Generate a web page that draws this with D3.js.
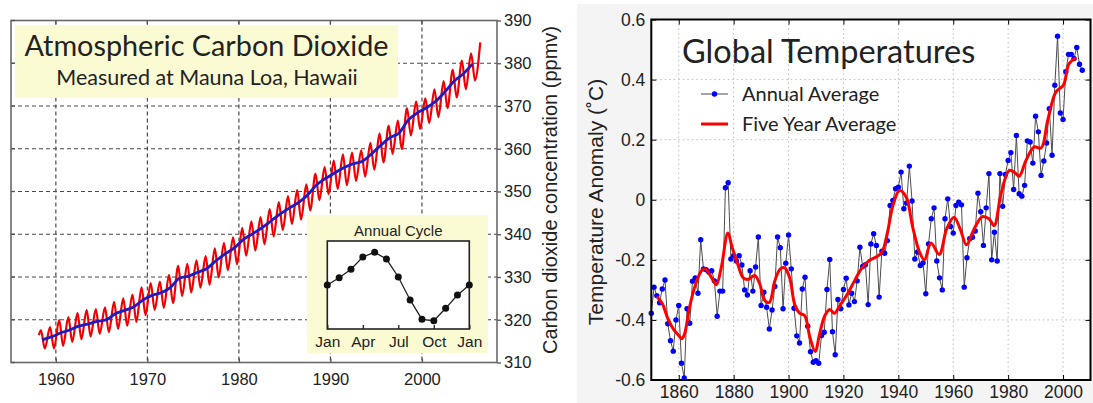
<!DOCTYPE html>
<html lang="en">
<head>
<meta charset="UTF-8">
<title>Atmospheric CO2 and Global Temperatures</title>
<style>
  body { margin: 0; background: #fff; }
  svg { display: block; }
  text { font-family: "Liberation Sans", Arial, sans-serif; fill: #222; }
  .myriad { font-family: Lato, "Open Sans", sans-serif; }
</style>
</head>
<body>
<svg id="chart" width="1093" height="403"></svg>
<script src="https://d3js.org/d3.v7.min.js"></script>
<script>
// ---------- Mauna Loa CO2 (ppmv) ----------
const co2Years = d3.range(1958, 2007);
// seasonal high (around May) for each year 1958-2006
const co2Peak = [
  317.5, 318.3, 320.0, 320.6, 321.6, 322.3, 322.5, 322.9, 324.2, 325.0,
  325.9, 327.6, 328.6, 328.9, 330.5, 332.6, 333.1, 333.9, 334.9, 336.7,
  338.0, 339.3, 341.5, 343.0, 344.0, 345.9, 347.5, 348.9, 350.3, 351.7,
  354.2, 355.7, 357.2, 358.7, 359.1, 359.6, 361.4, 363.6, 365.4, 366.6,
  369.5, 371.1, 371.8, 373.9, 375.8, 378.5, 380.6, 382.3, 384.9
];
// seasonal low (around October) for each year 1958-2005
const co2Trough = [
  313.3, 313.3, 313.9, 314.8, 315.4, 316.1, 316.7, 317.1, 317.9, 318.6,
  319.5, 321.1, 322.3, 322.8, 323.9, 325.6, 326.4, 327.5, 328.2, 329.9,
  331.6, 333.0, 335.0, 336.2, 337.7, 339.5, 341.0, 342.4, 343.4, 345.6,
  348.0, 349.4, 350.6, 351.5, 352.5, 353.5, 355.1, 356.8, 358.8, 359.9,
  363.1, 364.6, 366.0, 367.4, 369.5, 372.0, 373.9, 376.0
];
const co2First = [1958.15, 316.4];
// annual mean (blue), 1958-2005
const co2TrendYears = d3.range(1958, 2006);
const co2Trend = [
  315.3, 316.0, 316.9, 317.6, 318.5, 319.0, 319.6, 320.0, 321.4, 322.2,
  323.0, 324.6, 325.7, 326.3, 327.5, 329.7, 330.2, 331.1, 332.0, 333.8,
  335.4, 336.8, 338.8, 340.1, 341.5, 343.1, 344.7, 346.1, 347.4, 349.2,
  351.6, 353.1, 354.4, 355.6, 356.5, 357.1, 358.8, 360.8, 362.6, 363.7,
  366.7, 368.4, 369.6, 371.1, 373.3, 375.8, 377.5, 379.8
];
const co2XTicks = [1960, 1970, 1980, 1990, 2000];
const co2YTicks = [310, 320, 330, 340, 350, 360, 370, 380, 390];

// annual cycle inset (ppmv relative to annual mean), Jan..Jan
const cycleMonth = d3.range(0, 13);
const cycleValue = [0, 0.66, 1.43, 2.55, 2.97, 2.36, 0.73, -1.36, -3.12, -3.25, -2.12, -0.91, 0];
const cycleTickMonth = [0, 3, 6, 9, 12];
const cycleTickLabel = ["Jan", "Apr", "Jul", "Oct", "Jan"];

// ---------- Global temperature anomaly (deg C) ----------
const tempYears = d3.range(1850, 2008);
const tempAnnual = [
  -0.378, -0.291, -0.319, -0.343, -0.297, -0.267, -0.413, -0.469, -0.504, -0.400,
  -0.352, -0.544, -0.593, -0.363, -0.411, -0.271, -0.260, -0.311, -0.133, -0.230,
  -0.233, -0.241, -0.236, -0.270, -0.388, -0.304, -0.304,  0.040,  0.057, -0.197,
  -0.186, -0.204, -0.186, -0.217, -0.300, -0.317, -0.236, -0.304, -0.224, -0.124,
  -0.352, -0.308, -0.358, -0.430, -0.367, -0.289, -0.124, -0.160, -0.363, -0.211,
  -0.117, -0.230, -0.361, -0.453, -0.477, -0.297, -0.258, -0.421, -0.506, -0.541,
  -0.536, -0.544, -0.452, -0.441, -0.299, -0.199, -0.439, -0.516, -0.332, -0.363,
  -0.299, -0.261, -0.350, -0.311, -0.339, -0.270, -0.158, -0.222, -0.216, -0.349,
  -0.147, -0.113, -0.152, -0.324, -0.171, -0.178, -0.136, -0.019, -0.002,  0.037,
   0.042,  0.092, -0.030, -0.011,  0.112, -0.004, -0.197, -0.174, -0.219, -0.210,
  -0.313, -0.147, -0.063, -0.027, -0.204, -0.260, -0.300, -0.063,  0.003, -0.089,
  -0.111, -0.019, -0.008, -0.017, -0.291, -0.193, -0.130, -0.125, -0.104,  0.022,
  -0.040, -0.152, -0.027,  0.087, -0.200, -0.108, -0.204,  0.087, -0.022,  0.084,
   0.131,  0.157,  0.034,  0.214,  0.020,  0.012,  0.048,  0.196,  0.192,  0.122,
   0.278,  0.226,  0.081,  0.129,  0.189,  0.303,  0.148,  0.381,  0.544,  0.289,
   0.267,  0.426,  0.484,  0.484,  0.470,  0.507,  0.451,  0.431
];
// five year average (red)
const smoothYears = [
  1852, 1854, 1856, 1858, 1860, 1861, 1862, 1864, 1866, 1868, 1869, 1870, 1872,
  1873.7, 1875.5, 1877.9, 1879.5, 1881.5, 1883.5, 1885.3, 1887.7, 1889.5, 1891.3,
  1893, 1895, 1897, 1898.6, 1900.4, 1902.3, 1904.1, 1905.9, 1907.7, 1909.7, 1911.3,
  1913.2, 1915, 1916.7, 1918.5, 1921.5, 1924, 1926.5, 1929, 1932, 1934, 1936, 1938,
  1940.4, 1942.8, 1945.2, 1947.7, 1949.5, 1951.9, 1954.9, 1957.6, 1960.3, 1962.7,
  1964.8, 1967.6, 1970.6, 1973, 1974.9, 1977.4, 1980.4, 1982.5, 1984, 1986.5,
  1989.5, 1992, 1994.4, 1997.4, 2000.1, 2002.2, 2004.8
];
const smoothValues = [
  -0.322, -0.345, -0.395, -0.430, -0.452, -0.463, -0.450, -0.355, -0.285, -0.240, -0.230, -0.232, -0.260,
  -0.283, -0.225, -0.111, -0.160, -0.215, -0.260, -0.265, -0.252, -0.280, -0.335,
  -0.342, -0.270, -0.230, -0.227, -0.260, -0.350, -0.378, -0.386, -0.455, -0.505, -0.447,
  -0.386, -0.365, -0.378, -0.355, -0.313, -0.270, -0.230, -0.205, -0.190, -0.175, -0.110, -0.020,
   0.031,  0.010, -0.090, -0.174, -0.200, -0.144, -0.182, -0.097, -0.058, -0.102,
  -0.150, -0.097, -0.056, -0.063, -0.086,  0.020,  0.098,  0.090,  0.078,  0.131,
   0.176,  0.172,  0.264,  0.359,  0.381,  0.453,  0.473
];
const tempXTicks = [1860, 1880, 1900, 1920, 1940, 1960, 1980, 2000];
const tempYTicks = [-0.6, -0.4, -0.2, 0, 0.2, 0.4, 0.6];

const svg = d3.select("#chart");

// =============== left panel: CO2 ===============
const cx = d3.scaleLinear().domain([1955.1, 2008.2]).range([11, 497]);
const cy = d3.scaleLinear().domain([310, 390]).range([362.5, 20.5]);
const left = svg.append("g");

// dashed grid
left.append("g").selectAll("line").data(co2XTicks).join("line")
  .attr("x1", d => cx(d)).attr("x2", d => cx(d))
  .attr("y1", cy(390)).attr("y2", cy(310));
left.append("g").selectAll("line").data(co2YTicks.slice(1, -1)).join("line")
  .attr("x1", cx.range()[0]).attr("x2", cx.range()[1])
  .attr("y1", d => cy(d)).attr("y2", d => cy(d));
left.selectAll("g line")
  .attr("stroke", "#4a4a4a").attr("stroke-width", 1.2).attr("stroke-dasharray", "4,3");

// monthly (red) built from the seasonal highs and lows
const redPts = [co2First];
co2Years.forEach((yr, i) => {
  redPts.push([yr + 0.37, co2Peak[i]]);
  if (i < co2Trough.length) redPts.push([yr + 0.79, co2Trough[i]]);
});
const co2Line = d3.line().x(d => cx(d[0])).y(d => cy(d[1])).curve(d3.curveMonotoneX);
left.append("path").datum(redPts)
  .attr("d", co2Line).attr("fill", "none")
  .attr("stroke", "#f00000").attr("stroke-width", 2.2);
left.append("path").datum(co2TrendYears.map((yr, i) => [yr + 0.5, co2Trend[i]]))
  .attr("d", co2Line).attr("fill", "none")
  .attr("stroke", "#1c1cc4").attr("stroke-width", 2.8);

// title box
left.append("rect").attr("x", 15).attr("y", 25).attr("width", 383).attr("height", 73)
  .attr("fill", "#fbfbd3");
left.append("text").attr("class", "myriad").attr("x", 206.5).attr("y", 56)
  .attr("text-anchor", "middle").attr("font-size", 28.8).text("Atmospheric Carbon Dioxide");
left.append("text").attr("class", "myriad").attr("x", 207).attr("y", 85)
  .attr("text-anchor", "middle").attr("font-size", 21.5).text("Measured at Mauna Loa, Hawaii");

// inset: annual cycle
const ix = d3.scaleLinear().domain([0, 12]).range([327.3, 469.3]);
const iy = d3.scaleLinear().domain([-4, 4]).range([329, 241]);
left.append("rect").attr("x", 307).attr("y", 215).attr("width", 181).attr("height", 138)
  .attr("fill", "#fbfbd3");
left.append("rect").attr("x", ix(0)).attr("y", iy(4))
  .attr("width", ix(12) - ix(0)).attr("height", iy(-4) - iy(4))
  .attr("fill", "#fff").attr("stroke", "#222").attr("stroke-width", 1.6);
left.append("text").attr("x", ix(6)).attr("y", 236).attr("text-anchor", "middle")
  .attr("font-size", 15).text("Annual Cycle");
left.append("g").attr("transform", `translate(0,${iy(-4)})`)
  .call(d3.axisBottom(ix).tickValues(cycleTickMonth).tickSize(-4).tickPadding(7)
    .tickFormat((d, i) => cycleTickLabel[i]))
  .call(g => g.select(".domain").remove())
  .call(g => g.selectAll("line").attr("stroke", "#222").attr("stroke-width", 1.3))
  .call(g => g.selectAll("text").attr("font-size", 15.5).attr("fill", "#222")
    .attr("font-family", "Liberation Sans, Arial, sans-serif"));
const cycleLine = d3.line().x((d, i) => ix(cycleMonth[i])).y(d => iy(d));
left.append("path").datum(cycleValue).attr("d", cycleLine)
  .attr("fill", "none").attr("stroke", "#222").attr("stroke-width", 1.3);
left.append("g").selectAll("circle").data(cycleValue).join("circle")
  .attr("cx", (d, i) => ix(cycleMonth[i])).attr("cy", d => iy(d)).attr("r", 3.5)
  .attr("fill", "#111");

// frame and ticks
left.append("rect").attr("x", cx.range()[0]).attr("y", cy(390))
  .attr("width", cx.range()[1] - cx.range()[0]).attr("height", cy(310) - cy(390))
  .attr("fill", "none").attr("stroke", "#6a6a6a").attr("stroke-width", 1.6);
left.append("g").selectAll("line").data(co2XTicks).join("line")
  .attr("x1", d => cx(d)).attr("x2", d => cx(d))
  .attr("y1", cy(390)).attr("y2", cy(390) + 4)
  .attr("stroke", "#555").attr("stroke-width", 1.3);
left.append("g").selectAll("line").data(co2YTicks).join("line")
  .attr("x1", cx.range()[0]).attr("x2", cx.range()[0] + 4)
  .attr("y1", d => cy(d)).attr("y2", d => cy(d))
  .attr("stroke", "#555").attr("stroke-width", 1.3);

left.append("g").attr("transform", `translate(${cx.range()[1]},0)`)
  .call(d3.axisRight(cy).tickValues(co2YTicks).tickSize(4).tickPadding(3))
  .call(g => g.select(".domain").remove())
  .call(g => g.selectAll("line").attr("stroke", "#555").attr("stroke-width", 1.3))
  .call(g => g.selectAll("text").attr("font-size", 16.5).attr("fill", "#222")
    .attr("font-family", "Liberation Sans, Arial, sans-serif"));
left.append("g").attr("transform", `translate(0,${cy(310)})`)
  .call(d3.axisBottom(cx).tickValues(co2XTicks).tickSize(-4).tickPadding(11).tickFormat(d3.format("d")))
  .call(g => g.select(".domain").remove())
  .call(g => g.selectAll("line").attr("stroke", "#555").attr("stroke-width", 1.3))
  .call(g => g.selectAll("text").attr("font-size", 16.5).attr("fill", "#222")
    .attr("font-family", "Liberation Sans, Arial, sans-serif"));
left.append("text").attr("transform", "translate(550,190) rotate(-90)")
  .attr("text-anchor", "middle").attr("dy", "0.35em").attr("font-size", 20)
  .text("Carbon dioxide concentration (ppmv)");

// =============== right panel: temperatures ===============
const tx = d3.scaleLinear().domain([1850, 2010]).range([651.3, 1090.5]);
const ty = d3.scaleLinear().domain([-0.6, 0.6]).range([380, 19.5]);
const right = svg.append("g");

right.append("rect").attr("x", 577).attr("y", 4).attr("width", 516).attr("height", 399)
  .attr("fill", "#f4f4f4");
right.append("rect").attr("x", tx.range()[0]).attr("y", ty(0.6))
  .attr("width", tx.range()[1] - tx.range()[0]).attr("height", ty(-0.6) - ty(0.6))
  .attr("fill", "#fff");

// dotted grid
right.append("g").selectAll("line").data(tempXTicks).join("line")
  .attr("x1", d => tx(d)).attr("x2", d => tx(d)).attr("y1", ty(0.6)).attr("y2", ty(-0.6))
  .attr("stroke", "#bdbdbd").attr("stroke-width", 1).attr("stroke-dasharray", "1.5,3");
right.append("g").selectAll("line").data(tempYTicks.slice(1, -1)).join("line")
  .attr("x1", tx.range()[0]).attr("x2", tx.range()[1]).attr("y1", d => ty(d)).attr("y2", d => ty(d))
  .attr("stroke", "#bdbdbd").attr("stroke-width", 1).attr("stroke-dasharray", "1.5,3");

// annual average
right.append("path").datum(tempAnnual)
  .attr("d", d3.line().x((d, i) => tx(tempYears[i])).y(d => ty(d)))
  .attr("fill", "none").attr("stroke", "#4d4d4d").attr("stroke-width", 1);
right.append("g").selectAll("circle").data(tempAnnual).join("circle")
  .attr("cx", (d, i) => tx(tempYears[i])).attr("cy", d => ty(d)).attr("r", 2.7)
  .attr("fill", "#0000ff");
// five year average
right.append("path").datum(smoothValues)
  .attr("d", d3.line().x((d, i) => tx(smoothYears[i])).y(d => ty(d)).curve(d3.curveCatmullRom.alpha(0.5)))
  .attr("fill", "none").attr("stroke", "#ff0000").attr("stroke-width", 3);

// frame + axes
right.append("rect").attr("x", tx.range()[0]).attr("y", ty(0.6))
  .attr("width", tx.range()[1] - tx.range()[0]).attr("height", ty(-0.6) - ty(0.6))
  .attr("fill", "none").attr("stroke", "#000").attr("stroke-width", 2);
const styleAxis = g => {
  g.select(".domain").remove();
  g.selectAll("line").attr("stroke", "#000").attr("stroke-width", 1);
  g.selectAll("text").attr("font-size", 17.5).attr("fill", "#222")
    .attr("font-family", "Liberation Sans, Arial, sans-serif");
};
right.append("g").attr("transform", `translate(0,${ty(-0.6)})`)
  .call(d3.axisBottom(tx).tickValues(tempXTicks).tickSize(-5).tickPadding(6).tickFormat(d3.format("d")))
  .call(styleAxis);
right.append("g").attr("transform", `translate(0,${ty(0.6)})`)
  .call(d3.axisTop(tx).tickValues(tempXTicks).tickSize(-5).tickFormat(""))
  .call(styleAxis);
right.append("g").attr("transform", `translate(${tx.range()[0]},0)`)
  .call(d3.axisLeft(ty).tickValues(tempYTicks).tickSize(-5).tickPadding(6)
    .tickFormat(d => d === 0 ? "0" : d.toFixed(1)))
  .call(styleAxis);
right.append("g").attr("transform", `translate(${tx.range()[1]},0)`)
  .call(d3.axisRight(ty).tickValues(tempYTicks).tickSize(-5).tickFormat(""))
  .call(styleAxis);

right.append("text").attr("transform", "translate(596,202) rotate(-90)")
  .attr("text-anchor", "middle").attr("dy", "0.35em").attr("font-size", 21)
  .text("Temperature Anomaly (\u02DAC)");

// title and legend
right.append("text").attr("class", "myriad").attr("x", 682).attr("y", 63)
  .attr("font-size", 32.5).text("Global Temperatures");
right.append("line").attr("x1", 701).attr("x2", 728).attr("y1", 94).attr("y2", 94)
  .attr("stroke", "#4d4d4d").attr("stroke-width", 1);
right.append("circle").attr("cx", 714.5).attr("cy", 94).attr("r", 2.7).attr("fill", "#0000ff");
right.append("text").attr("class", "myriad").attr("x", 742).attr("y", 101)
  .attr("font-size", 20).text("Annual Average");
right.append("line").attr("x1", 701).attr("x2", 728).attr("y1", 124).attr("y2", 124)
  .attr("stroke", "#ff0000").attr("stroke-width", 3);
right.append("text").attr("class", "myriad").attr("x", 742).attr("y", 131)
  .attr("font-size", 20).text("Five Year Average");
</script>
</body>
</html>
